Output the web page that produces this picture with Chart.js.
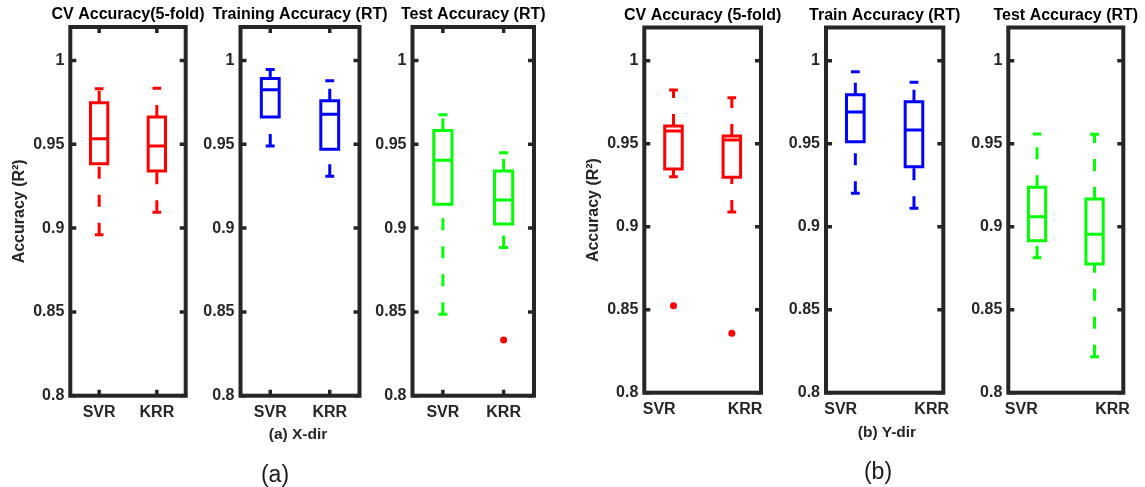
<!DOCTYPE html>
<html>
<head>
<meta charset="utf-8">
<script src="https://cdn.jsdelivr.net/npm/chart.js@4.4.1/dist/chart.umd.min.js"></script>
<style>
  html, body { margin: 0; padding: 0; background: #fff; }
  #wrap { position: relative; width: 1145px; height: 487px; overflow: hidden; }
  #wrap canvas { position: absolute; left: 0; top: 0; }
  .cap { position: absolute; transform: translate(-50%, -50%); white-space: nowrap;
         font-family: 'Liberation Sans', Arial, sans-serif; line-height: 1; }
  .sub { font-weight: bold; font-size: 15.5px; color: #262626; }
  .big { font-size: 23px; color: #1a1a1a; }
</style>
</head>
<body>
<div id="wrap">
  <canvas id="p1" width="1145" height="487"></canvas>
  <canvas id="p2" width="1145" height="487"></canvas>
  <canvas id="p3" width="1145" height="487"></canvas>
  <canvas id="p4" width="1145" height="487"></canvas>
  <canvas id="p5" width="1145" height="487"></canvas>
  <canvas id="p6" width="1145" height="487"></canvas>
  <div class="cap sub" style="left:298px; top:433.5px;">(a) X-dir</div>
  <div class="cap sub" style="left:887px; top:432px;">(b) Y-dir</div>
  <div class="cap big" style="left:275px; top:474px;">(a)</div>
  <div class="cap big" style="left:878px; top:471px;">(b)</div>
</div>
<script>
// Model names on the x axis
const groups = ['SVR', 'KRR'];

// R² axis ticks
const yTickValues = [0.8, 0.85, 0.9, 0.95, 1];
const yTickLabels = ['0.8', '0.85', '0.9', '0.95', '1'];

// Box statistics: [lower whisker, Q1, median, Q3, upper whisker]
// X direction
const xCvSvr    = [0.8961, 0.9384, 0.9533, 0.9748, 0.9831];
const xCvKrr    = [0.9095, 0.9341, 0.9490, 0.9663, 0.9835];
const xTrainSvr = [0.9490, 0.9663, 0.9826, 0.9893, 0.9946];
const xTrainKrr = [0.9310, 0.9470, 0.9679, 0.9760, 0.9879];
const xTestSvr  = [0.8486, 0.9143, 0.9405, 0.9583, 0.9677];
const xTestKrr  = [0.8885, 0.9024, 0.9167, 0.9341, 0.9450];
// Y direction
const yCvSvr    = [0.9301, 0.9348, 0.9577, 0.9607, 0.9823];
const yCvKrr    = [0.9089, 0.9298, 0.9522, 0.9546, 0.9777];
const yTrainSvr = [0.9201, 0.9512, 0.9691, 0.9795, 0.9934];
const yTrainKrr = [0.9111, 0.9361, 0.9583, 0.9753, 0.9870];
const yTestSvr  = [0.8813, 0.8916, 0.9060, 0.9237, 0.9558];
const yTestKrr  = [0.8217, 0.8775, 0.8955, 0.9167, 0.9557];

// Outliers
const xTestKrrOut = [0.8333];
const yCvSvrOut   = [0.8524];
const yCvKrrOut   = [0.8358];

// Label positions along the x axis
const tickPosA  = [1, 2];
const tickPosB1 = [0.755, 2.226];
const tickPosB2 = [0.751, 2.302];
const tickPosB3 = [0.726, 2.312];

const FONT = "'Liberation Sans', Arial, sans-serif";
const INK = '#262626';
const RED = '#ff0000', BLUE = '#0000ff', GREEN = '#00ff00';
const BOX_HALF = 0.15, CAP_HALF = 0.075, DASH = [12, 16];
const W = 1145, H = 487, XH = 30, TICK = 6;

const panels = [
  { id: 'p1', title: 'CV Accuracy(5-fold)', color: RED,  stats: [xCvSvr, xCvKrr],       out: [[], []],
    L: 70.3, R: 185.7, T: 27, B: 395.7, tc: 15, yTitle: true, yc: 20, xTicks: tickPosA, xMarks: true, xPad: 7 },
  { id: 'p2', title: 'Training Accuracy (RT)', color: BLUE, stats: [xTrainSvr, xTrainKrr], out: [[], []],
    L: 240.5, R: 359.5, T: 27, B: 395.7, tc: 15, xTicks: tickPosA, xMarks: true, xPad: 7 },
  { id: 'p3', title: 'Test Accuracy (RT)', color: GREEN, stats: [xTestSvr, xTestKrr],    out: [[], xTestKrrOut],
    L: 412.5, R: 534, T: 27, B: 395.7, tc: 15, xTicks: tickPosA, xMarks: true, xPad: 7 },
  { id: 'p4', title: 'CV Accuracy (5-fold)', color: RED,  stats: [yCvSvr, yCvKrr],       out: [yCvSvrOut, yCvKrrOut],
    L: 644.3, R: 761, T: 27.5, B: 392.7, tc: 16, yTitle: true, yc: 593.3, xTicks: tickPosB1, xMarks: false, xPad: 7.7 },
  { id: 'p5', title: 'Train Accuracy (RT)', color: BLUE, stats: [yTrainSvr, yTrainKrr], out: [[], []],
    L: 826, R: 943.3, T: 27.5, B: 392.7, tc: 16, xTicks: tickPosB2, xMarks: false, xPad: 7.7 },
  { id: 'p6', title: 'Test Accuracy (RT)', color: GREEN, stats: [yTestSvr, yTestKrr],    out: [[], []],
    L: 1008.3, R: 1123.3, T: 27.5, B: 392.7, tc: 16, xTicks: tickPosB3, xMarks: false, xPad: 7.7 }
];

// Axes frame with inward tick marks, plus the panel title above it
const framePlugin = {
  id: 'frame',
  afterDraw(chart, args, opts) {
    const { ctx, chartArea: a, scales: { x, y } } = chart;
    ctx.save();
    ctx.strokeStyle = INK;
    ctx.lineCap = 'butt';
    ctx.lineWidth = 3.5;
    ctx.beginPath();
    yTickValues.forEach(v => {
      const py = y.getPixelForValue(v);
      ctx.moveTo(a.left, py);  ctx.lineTo(a.left + TICK, py);
      ctx.moveTo(a.right, py); ctx.lineTo(a.right - TICK, py);
    });
    if (opts.xMarks) {
      opts.xTicks.forEach(v => {
        const px = x.getPixelForValue(v);
        ctx.moveTo(px, a.top);    ctx.lineTo(px, a.top + TICK);
        ctx.moveTo(px, a.bottom); ctx.lineTo(px, a.bottom - TICK);
      });
    }
    ctx.stroke();
    ctx.lineWidth = 4;
    ctx.lineJoin = 'miter';
    ctx.strokeRect(a.left, a.top, a.right - a.left, a.bottom - a.top);

    ctx.fillStyle = '#000';
    ctx.font = `bold 16px ${FONT}`;
    ctx.textAlign = 'center';
    ctx.textBaseline = 'middle';
    ctx.fillText(opts.title, (a.left + a.right) / 2, opts.titleY);
    ctx.restore();
  }
};

function seg(points, color, dash) {
  return {
    data: points, showLine: true, borderColor: color, borderWidth: 3,
    borderDash: dash || [], borderCapStyle: 'butt', borderJoinStyle: 'miter',
    pointRadius: 0, pointHoverRadius: 0, tension: 0, fill: false
  };
}

function boxDatasets(stats, outliers, color) {
  const ds = [];
  stats.forEach((s, i) => {
    const x = i + 1;
    const [lo, q1, med, q3, hi] = s;
    ds.push(seg([{ x, y: lo }, { x, y: q1 }], color, DASH));
    ds.push(seg([{ x, y: q3 }, { x, y: hi }], color, DASH));
    ds.push(seg([{ x: x - CAP_HALF, y: lo }, { x: x + CAP_HALF, y: lo }], color));
    ds.push(seg([{ x: x - CAP_HALF, y: hi }, { x: x + CAP_HALF, y: hi }], color));
    ds.push(seg([
      { x: x - BOX_HALF, y: q1 }, { x: x + BOX_HALF, y: q1 },
      { x: x + BOX_HALF, y: q3 }, { x: x - BOX_HALF, y: q3 },
      { x: x - BOX_HALF, y: q1 }, { x: x + BOX_HALF, y: q1 }
    ], color));
    ds.push(seg([{ x: x - BOX_HALF, y: med }, { x: x + BOX_HALF, y: med }], color));
    if (outliers[i].length) {
      ds.push({
        data: outliers[i].map(v => ({ x, y: v })), showLine: false,
        pointRadius: 3.5, pointHoverRadius: 3.5, pointStyle: 'circle',
        pointBackgroundColor: RED, pointBorderColor: RED, pointBorderWidth: 0
      });
    }
  });
  return ds;
}

panels.forEach(p => {
  const yw = p.yTitle ? p.L - (p.yc - 9.6) : 50;
  new Chart(document.getElementById(p.id), {
    type: 'scatter',
    data: { datasets: boxDatasets(p.stats, p.out, p.color) },
    options: {
      responsive: false,
      animation: false,
      devicePixelRatio: 1,
      events: [],
      layout: { padding: { left: p.L - yw, right: W - p.R, top: p.T, bottom: H - p.B - XH } },
      plugins: {
        legend: { display: false },
        tooltip: { enabled: false },
        title: { display: false },
        frame: { xTicks: p.xTicks, xMarks: p.xMarks, title: p.title, titleY: p.tc }
      },
      scales: {
        x: {
          type: 'linear', min: 0.5, max: 2.5,
          grid: { display: false, drawTicks: false },
          border: { display: false },
          afterBuildTicks: s => { s.ticks = p.xTicks.map(v => ({ value: v })); },
          afterFit: s => { s.height = XH; },
          ticks: {
            autoSkip: false, maxRotation: 0, minRotation: 0, padding: p.xPad,
            color: INK, font: { family: FONT, size: 16, weight: 'bold' },
            callback: (v, i) => groups[i]
          }
        },
        y: {
          type: 'linear', min: 0.8, max: 1.02,
          grid: { display: false, drawTicks: false },
          border: { display: false },
          afterBuildTicks: s => { s.ticks = yTickValues.map(v => ({ value: v })); },
          afterFit: s => { s.width = yw; },
          ticks: {
            padding: 6, color: INK, font: { family: FONT, size: 16, weight: 'bold' },
            callback: (v, i) => yTickLabels[i]
          },
          title: {
            display: !!p.yTitle, text: 'Accuracy (R²)', color: INK,
            font: { family: FONT, size: 16, weight: 'bold' },
            padding: { top: 0, bottom: 0 }
          }
        }
      }
    },
    plugins: [framePlugin]
  });
});
</script>
</body>
</html>
